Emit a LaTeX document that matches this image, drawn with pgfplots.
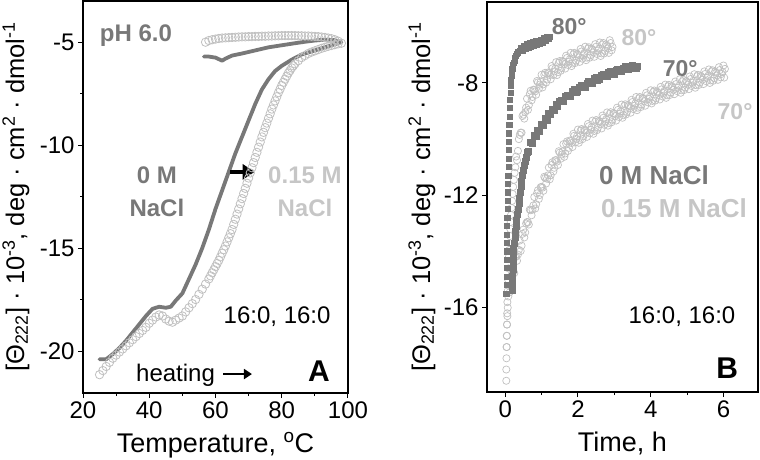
\documentclass[border=0pt]{standalone}
\usepackage{pgfplots}
\pgfplotsset{compat=1.18}
\usepackage{fontspec}
\setmainfont{Liberation Sans}
\usetikzlibrary{arrows.meta}
\definecolor{dk}{RGB}{120,120,120}
\definecolor{lt}{RGB}{192,192,192}
\definecolor{ltt}{RGB}{198,198,198}

\pgfplotstableread{
T v
25 -20.4
27 -20.4
29 -20.15
31 -19.85
33 -19.5
35 -19.1
37 -18.7
39 -18.3
41 -17.95
43 -17.85
45 -17.9
46.5 -17.85
48 -17.55
50 -17.2
52 -16.5
54 -15.8
56 -15.0
58 -14.1
60 -13.1
62 -12.2
64 -11.3
66 -10.4
68 -9.6
70 -8.8
72 -8.0
74 -7.3
76 -6.8
78 -6.4
80 -6.15
83 -5.85
86 -5.6
89 -5.45
92 -5.3
95 -5.15
98 -5.0
96 -4.9
93 -4.88
90 -4.92
87 -4.98
84 -5.05
80 -5.15
76 -5.25
72 -5.4
68 -5.55
65 -5.65
63 -5.8
62 -5.9
60 -5.75
58 -5.7
56.5 -5.7
}\darkA

\pgfplotstableread{
T v
25 -21.15
26 -20.95
27 -20.75
28 -20.55
29 -20.35
30 -20.2
31 -20.05
32 -19.9
33 -19.75
34 -19.6
35 -19.45
36 -19.3
37 -19.15
38 -19.0
39 -18.85
40 -18.65
41 -18.5
42 -18.35
43 -18.25
44 -18.3
45 -18.45
46 -18.55
47 -18.6
48 -18.5
49 -18.4
50 -18.3
51 -18.1
52 -17.9
53 -17.7
54 -17.5
55 -17.25
56 -17.0
57 -16.75
58 -16.5
58.5 -16.35
59 -16.2
59.5 -16.05
60 -15.9
60.5 -15.75
61 -15.6
61.5 -15.43
62 -15.25
62.5 -15.08
63 -14.9
63.5 -14.7
64 -14.5
64.5 -14.3
65 -14.1
65.5 -13.85
66 -13.6
66.5 -13.35
67 -13.1
67.5 -12.85
68 -12.6
68.5 -12.35
69 -12.1
69.5 -11.85
70 -11.6
70.5 -11.35
71 -11.1
71.5 -10.85
72 -10.6
72.5 -10.35
73 -10.1
73.5 -9.85
74 -9.6
74.5 -9.38
75 -9.15
75.5 -8.93
76 -8.7
76.5 -8.48
77 -8.25
77.5 -8.05
78 -7.85
78.5 -7.65
79 -7.45
79.5 -7.28
80 -7.1
80.5 -6.95
81 -6.8
81.5 -6.65
82 -6.5
82.5 -6.38
83 -6.25
83.5 -6.15
84 -6.05
85 -5.9
86 -5.75
87 -5.65
88 -5.55
89 -5.48
90 -5.42
91 -5.36
92 -5.3
93 -5.25
94 -5.2
95 -5.16
96 -5.12
97 -5.08
98 -5.05
97 -4.95
96 -4.88
95 -4.83
94 -4.8
93 -4.77
92 -4.75
91 -4.73
90 -4.72
89 -4.71
88 -4.7
87 -4.7
86 -4.69
85 -4.69
84 -4.68
83 -4.68
82 -4.68
81 -4.68
80 -4.68
79 -4.69
78 -4.69
77 -4.7
76 -4.7
75 -4.71
74 -4.71
73 -4.72
72 -4.72
71 -4.73
70 -4.73
69 -4.74
68 -4.74
67 -4.75
66 -4.76
65 -4.77
64 -4.78
63 -4.79
62 -4.8
61 -4.82
60 -4.85
59 -4.88
58 -4.92
57 -5.0
}\lightA

\pgfplotstableread{
t v
0.035 -15.5
0.04 -15.2
0.045 -14.9
0.05 -14.6
0.05 -14.3
0.055 -14.0
0.055 -13.7
0.06 -13.4
0.06 -13.1
0.065 -12.8
0.07 -12.5
0.075 -12.2
0.08 -11.9
0.085 -11.6
0.09 -11.3
0.095 -11.0
0.10 -10.7
0.105 -10.4
0.11 -10.1
0.115 -9.8
0.12 -9.5
0.125 -9.2
0.13 -8.9
0.14 -8.6
0.15 -8.35
0.16 -8.1
0.17 -7.9
0.18 -7.75
0.19 -7.6
0.20 -7.5
0.22 -7.38
0.24 -7.28
0.26 -7.2
0.28 -7.12
0.30 -7.05
0.33 -6.98
0.36 -6.92
0.40 -6.86
0.44 -6.76
0.48 -6.86
0.52 -6.7
0.56 -6.8
0.60 -6.63
0.64 -6.75
0.68 -6.6
0.72 -6.72
0.76 -6.56
0.80 -6.68
0.84 -6.52
0.88 -6.64
0.92 -6.5
0.96 -6.6
1.00 -6.46
1.04 -6.56
1.08 -6.42
1.12 -6.52
1.16 -6.38
1.20 -6.45
1.23 -6.36
}\darkEighty

\pgfplotstableread{
t v
0.20 -15.4
0.205 -15.15
0.21 -14.9
0.215 -14.65
0.22 -14.4
0.23 -14.15
0.24 -13.9
0.255 -13.7
0.27 -13.5
0.285 -13.3
0.30 -13.1
0.32 -12.9
0.34 -12.7
0.36 -12.5
0.38 -12.3
0.40 -12.1
0.42 -11.9
0.44 -11.7
0.46 -11.5
0.48 -11.3
0.50 -11.1
0.525 -10.95
0.55 -10.8
0.575 -10.65
0.60 -10.48
0.65 -10.44
0.70 -10.13
0.75 -10.14
0.80 -9.88
0.85 -9.92
0.90 -9.68
0.95 -9.72
1.00 -9.48
1.05 -9.52
1.10 -9.28
1.15 -9.32
1.20 -9.08
1.25 -9.14
1.30 -8.93
1.35 -8.99
1.40 -8.78
1.45 -8.85
1.50 -8.65
1.55 -8.62
1.60 -8.67
1.65 -8.50
1.70 -8.43
1.75 -8.50
1.80 -8.47
1.85 -8.30
1.90 -8.25
1.95 -8.33
2.00 -8.32
2.05 -8.16
2.10 -8.10
2.15 -8.18
2.20 -8.17
2.25 -8.01
2.30 -7.95
2.35 -8.03
2.40 -8.02
2.45 -7.86
2.50 -7.81
2.55 -7.90
2.60 -7.89
2.65 -7.74
2.70 -7.69
2.75 -7.78
2.80 -7.78
2.85 -7.63
2.90 -7.59
2.95 -7.68
3.00 -7.69
3.05 -7.55
3.10 -7.51
3.15 -7.60
3.20 -7.61
3.25 -7.47
3.30 -7.43
3.35 -7.52
3.40 -7.54
3.45 -7.41
3.50 -7.37
3.55 -7.47
3.60 -7.49
3.65 -7.40
}\darkSeventy

\pgfplotstableread{
t v
0.03 -18.6
0.03 -18.2
0.035 -17.8
0.04 -17.4
0.045 -17.0
0.05 -16.6
0.055 -16.2
0.06 -15.8
0.07 -15.4
0.08 -15.0
0.09 -14.6
0.10 -14.2
0.11 -13.95
0.12 -13.7
0.13 -13.45
0.14 -13.2
0.15 -12.95
0.16 -12.7
0.175 -12.45
0.19 -12.2
0.205 -11.95
0.22 -11.7
0.24 -11.45
0.26 -11.2
0.28 -11.0
0.30 -10.62
0.325 -10.75
0.35 -10.42
0.375 -10.00
0.40 -9.85
0.425 -9.77
0.45 -9.77
0.475 -9.18
0.50 -9.13
0.525 -9.27
0.55 -9.04
0.575 -8.88
0.60 -8.56
0.625 -8.96
0.65 -8.79
0.675 -8.40
0.70 -8.28
0.725 -8.62
0.75 -8.50
0.775 -8.24
0.80 -8.25
0.825 -8.30
0.85 -8.42
0.875 -7.93
0.90 -7.98
0.925 -8.21
0.95 -8.06
0.975 -7.96
1.00 -7.71
1.025 -8.16
1.05 -8.05
1.075 -7.71
1.10 -7.64
1.125 -7.99
1.15 -7.88
1.175 -7.63
1.20 -7.65
1.225 -7.72
1.25 -7.87
1.275 -7.40
1.30 -7.48
1.325 -7.72
1.35 -7.59
1.375 -7.50
1.40 -7.26
1.425 -7.72
1.45 -7.62
1.475 -7.28
1.50 -7.22
1.525 -7.57
1.55 -7.47
1.575 -7.22
1.60 -7.25
1.625 -7.33
1.65 -7.49
1.675 -7.03
1.70 -7.11
1.725 -7.36
1.75 -7.24
1.775 -7.16
1.80 -6.93
1.825 -7.40
1.85 -7.31
1.875 -6.98
1.90 -6.93
1.925 -7.29
1.95 -7.20
1.975 -6.96
2.00 -7.00
2.025 -7.09
2.05 -7.25
2.075 -6.79
2.10 -6.88
2.125 -7.14
2.15 -7.02
2.175 -6.94
2.20 -6.71
2.225 -7.19
2.25 -7.10
2.275 -6.78
2.30 -6.73
2.325 -7.10
2.35 -7.01
2.375 -6.78
2.40 -6.82
2.425 -6.91
2.45 -7.07
2.475 -6.62
2.50 -6.71
2.525 -6.97
2.55 -6.85
2.575 -6.78
2.60 -6.56
2.625 -7.04
2.65 -6.95
2.675 -6.63
2.70 -6.58
2.725 -6.95
2.75 -6.86
2.775 -6.63
2.80 -6.68
2.825 -6.77
2.85 -6.93
2.875 -6.48
2.90 -6.58
2.925 -6.84
2.95 -6.72
}\lightEighty

\pgfplotstableread{
t v
0.04 -17.4
0.045 -17.0
0.05 -16.6
0.06 -16.3
0.07 -16.0
0.085 -15.6
0.10 -15.22
0.125 -15.45
0.15 -15.22
0.175 -14.85
0.20 -14.75
0.225 -14.72
0.25 -14.77
0.275 -14.20
0.30 -14.18
0.325 -14.33
0.35 -14.11
0.375 -13.94
0.40 -13.61
0.425 -13.98
0.45 -13.79
0.475 -13.37
0.50 -13.22
0.525 -13.50
0.55 -13.32
0.575 -13.00
0.60 -12.95
0.625 -12.96
0.65 -13.04
0.675 -12.51
0.70 -12.53
0.725 -12.71
0.75 -12.51
0.775 -12.36
0.80 -12.06
0.825 -12.47
0.85 -12.32
0.875 -11.93
0.90 -11.82
0.925 -12.13
0.95 -11.99
0.975 -11.71
1.00 -11.70
1.025 -11.73
1.05 -11.84
1.075 -11.34
1.10 -11.38
1.125 -11.58
1.15 -11.41
1.175 -11.29
1.20 -11.01
1.225 -11.43
1.25 -11.29
1.275 -10.92
1.30 -10.82
1.325 -11.15
1.35 -11.02
1.375 -10.75
1.40 -10.75
1.425 -10.80
1.45 -10.92
1.475 -10.43
1.50 -10.48
1.525 -10.70
1.55 -10.55
1.575 -10.44
1.60 -10.18
1.625 -10.63
1.65 -10.51
1.675 -10.16
1.70 -10.08
1.725 -10.42
1.75 -10.31
1.775 -10.05
1.80 -10.07
1.825 -10.14
1.85 -10.28
1.875 -9.81
1.90 -9.88
1.925 -10.12
1.95 -9.99
1.975 -9.90
2.00 -9.66
2.025 -10.13
2.05 -10.03
2.075 -9.70
2.10 -9.64
2.125 -10.00
2.15 -9.90
2.175 -9.66
2.20 -9.69
2.225 -9.77
2.25 -9.92
2.275 -9.46
2.30 -9.54
2.325 -9.79
2.35 -9.66
2.375 -9.58
2.40 -9.34
2.425 -9.81
2.45 -9.71
2.475 -9.38
2.50 -9.32
2.525 -9.68
2.55 -9.59
2.575 -9.35
2.60 -9.38
2.625 -9.46
2.65 -9.62
2.675 -9.16
2.70 -9.24
2.725 -9.49
2.75 -9.37
2.775 -9.29
2.80 -9.05
2.825 -9.52
2.85 -9.43
2.875 -9.10
2.90 -9.04
2.925 -9.40
2.95 -9.31
2.975 -9.07
3.00 -9.10
3.025 -9.18
3.05 -9.34
3.075 -8.88
3.10 -8.96
3.125 -9.21
3.15 -9.09
3.175 -9.01
3.20 -8.77
3.225 -9.24
3.25 -9.15
3.275 -8.82
3.30 -8.76
3.325 -9.12
3.35 -9.03
3.375 -8.79
3.40 -8.82
3.425 -8.90
3.45 -9.06
3.475 -8.60
3.50 -8.68
3.525 -8.93
3.55 -8.81
3.575 -8.73
3.60 -8.50
3.625 -8.97
3.65 -8.88
3.675 -8.55
3.70 -8.50
3.725 -8.86
3.75 -8.77
3.775 -8.53
3.80 -8.57
3.825 -8.65
3.85 -8.81
3.875 -8.35
3.90 -8.44
3.925 -8.69
3.95 -8.57
3.975 -8.49
4.00 -8.26
4.025 -8.73
4.05 -8.64
4.075 -8.32
4.10 -8.27
4.125 -8.63
4.15 -8.54
4.175 -8.31
4.20 -8.35
4.225 -8.43
4.25 -8.59
4.275 -8.14
4.30 -8.23
4.325 -8.48
4.35 -8.36
4.375 -8.29
4.40 -8.06
4.425 -8.53
4.45 -8.44
4.475 -8.12
4.50 -8.07
4.525 -8.43
4.55 -8.34
4.575 -8.11
4.60 -8.15
4.625 -8.24
4.65 -8.40
4.675 -7.95
4.70 -8.04
4.725 -8.29
4.75 -8.17
4.775 -8.10
4.80 -7.87
4.825 -8.35
4.85 -8.26
4.875 -7.94
4.90 -7.89
4.925 -8.25
4.95 -8.16
4.975 -7.93
5.00 -7.97
5.025 -8.06
5.05 -8.22
5.075 -7.77
5.10 -7.86
5.125 -8.11
5.15 -7.99
5.175 -7.92
5.20 -7.69
5.225 -8.17
5.25 -8.08
5.275 -7.76
5.30 -7.71
5.325 -8.07
5.35 -7.98
5.375 -7.75
5.40 -7.79
5.425 -7.88
5.45 -8.04
5.475 -7.59
5.50 -7.68
5.525 -7.94
5.55 -7.82
5.575 -7.75
5.60 -7.52
5.625 -8.00
5.65 -7.91
5.675 -7.59
5.70 -7.55
5.725 -7.92
5.75 -7.83
5.775 -7.60
5.80 -7.64
5.825 -7.73
5.85 -7.89
5.875 -7.44
5.90 -7.54
5.925 -7.80
5.95 -7.68
5.975 -7.61
6.00 -7.38
6.02 -7.81
6.04 -7.50
}\lightSeventy

\pgfplotsset{
  panel/.style={
    scale only axis, anchor=south west,
    tick align=outside, tick pos=left,
    major tick length=5pt, minor tick length=3pt,
    axis line style={line width=1.6pt},
    every tick/.style={black, line width=1pt},
    ticklabel style={font=\fontsize{24}{28}\selectfont},
    label style={font=\fontsize{27}{30}\selectfont},
    /pgf/number format/assume math mode=true,
    xlabel style={anchor=base},
    ylabel style={anchor=base, rotate=0},
  }
}

\begin{document}
\begin{tikzpicture}[x=1pt,y=1pt]
\useasboundingbox (0,0) rectangle (760,459);
\begin{axis}[panel,
  at={(83pt,66pt)}, width=265pt, height=392pt,
  xmin=20, xmax=100, ymin=-22.04, ymax=-3.0,
  xtick={20,40,60,80,100}, minor xtick={30,50,70,90},
  ytick={-20,-15,-10,-5}, minor ytick={-17.5,-12.5,-7.5},
  xlabel={Temperature, \textsuperscript{o}C},
  ylabel={[Θ\textsubscript{222}] · 10\textsuperscript{-3}, deg · cm\textsuperscript{2} · dmol\textsuperscript{-1}},
  xlabel style={at={(axis description cs:0.5,-0.1505)}},
  ylabel style={at={(axis description cs:-0.2226,0.5)}, font=\fontsize{25.5}{28}\selectfont},
]
\addplot[lt, only marks, mark=o, mark size=4.2pt, mark options={line width=0.8pt}] table[x=T,y=v] {\lightA};
\addplot[dk, line width=3.8pt, line join=round, line cap=round] table[x=T,y=v] {\darkA};
\draw[black, line width=4pt, -{Triangle[length=12pt,width=15pt]}] (axis cs:64.5,-11.3) -- (axis cs:71.8,-11.3);
\draw[black, line width=2pt, -{Triangle[length=8pt,width=10pt]}] (axis cs:62.3,-21.12) -- (axis cs:71.0,-21.12);
\node[dk, font=\bfseries\fontsize{24}{28}\selectfont] at (axis cs:36.0,-4.66) {pH 6.0};
\node[dk, font=\bfseries\fontsize{24}{33}\selectfont, align=center] at (axis cs:42.3,-12.26) {0 M\\NaCl};
\node[ltt, font=\bfseries\fontsize{24}{33}\selectfont, align=center] at (axis cs:87.0,-12.26) {0.15 M\\NaCl};
\node[black, font=\fontsize{24}{28}\selectfont] at (axis cs:78.6,-18.35) {16:0, 16:0};
\node[black, font=\fontsize{24}{28}\selectfont, anchor=base west, inner sep=0pt] at (axis cs:36.0,-21.5) {heating};
\node[black, font=\bfseries\fontsize{30}{34}\selectfont] at (axis cs:91.2,-21.0) {A};
\end{axis}

\begin{axis}[panel,
  at={(487pt,67pt)}, width=271pt, height=390pt,
  xmin=-0.5, xmax=6.95, ymin=-19.0, ymax=-5.12,
  xtick={0,2,4,6}, minor xtick={1,3,5},
  ytick={-16,-12,-8},
  xlabel={Time, h},
  ylabel={[Θ\textsubscript{222}] · 10\textsuperscript{-3}, deg · cm\textsuperscript{2} · dmol\textsuperscript{-1}},
  xlabel style={at={(axis description cs:0.5,-0.1538)}},
  ylabel style={at={(axis description cs:-0.2103,0.5)}, font=\fontsize{25.5}{28}\selectfont},
]
\addplot[lt, only marks, mark=o, mark size=3.6pt, mark options={line width=0.7pt}] table[x=t,y=v] {\lightSeventy};
\addplot[lt, only marks, mark=o, mark size=3.6pt, mark options={line width=0.7pt}] table[x=t,y=v] {\lightEighty};
\addplot[dk, only marks, mark=square*, mark size=3pt, mark options={draw=dk, fill=dk, line width=0pt}] table[x=t,y=v] {\darkSeventy};
\addplot[dk, only marks, mark=square*, mark size=2.6pt, mark options={draw=dk, fill=dk, line width=0pt}] table[x=t,y=v] {\darkEighty};
\node[dk, font=\bfseries\fontsize{23}{28}\selectfont] at (axis cs:1.76,-6.01) {80°};
\node[ltt, font=\bfseries\fontsize{23}{28}\selectfont] at (axis cs:3.68,-6.4) {80°};
\node[dk, font=\bfseries\fontsize{23}{28}\selectfont] at (axis cs:4.81,-7.5) {70°};
\node[ltt, font=\bfseries\fontsize{23}{28}\selectfont] at (axis cs:6.32,-9.03) {70°};
\node[dk, font=\bfseries\fontsize{26}{28}\selectfont] at (axis cs:4.09,-11.27) {0 M NaCl};
\node[ltt, font=\bfseries\fontsize{26}{28}\selectfont] at (axis cs:4.64,-12.45) {0.15 M NaCl};
\node[black, font=\fontsize{24}{28}\selectfont] at (axis cs:4.86,-16.33) {16:0, 16:0};
\node[black, font=\bfseries\fontsize{30}{34}\selectfont] at (axis cs:6.10,-18.14) {B};
\end{axis}
\end{tikzpicture}
\end{document}
